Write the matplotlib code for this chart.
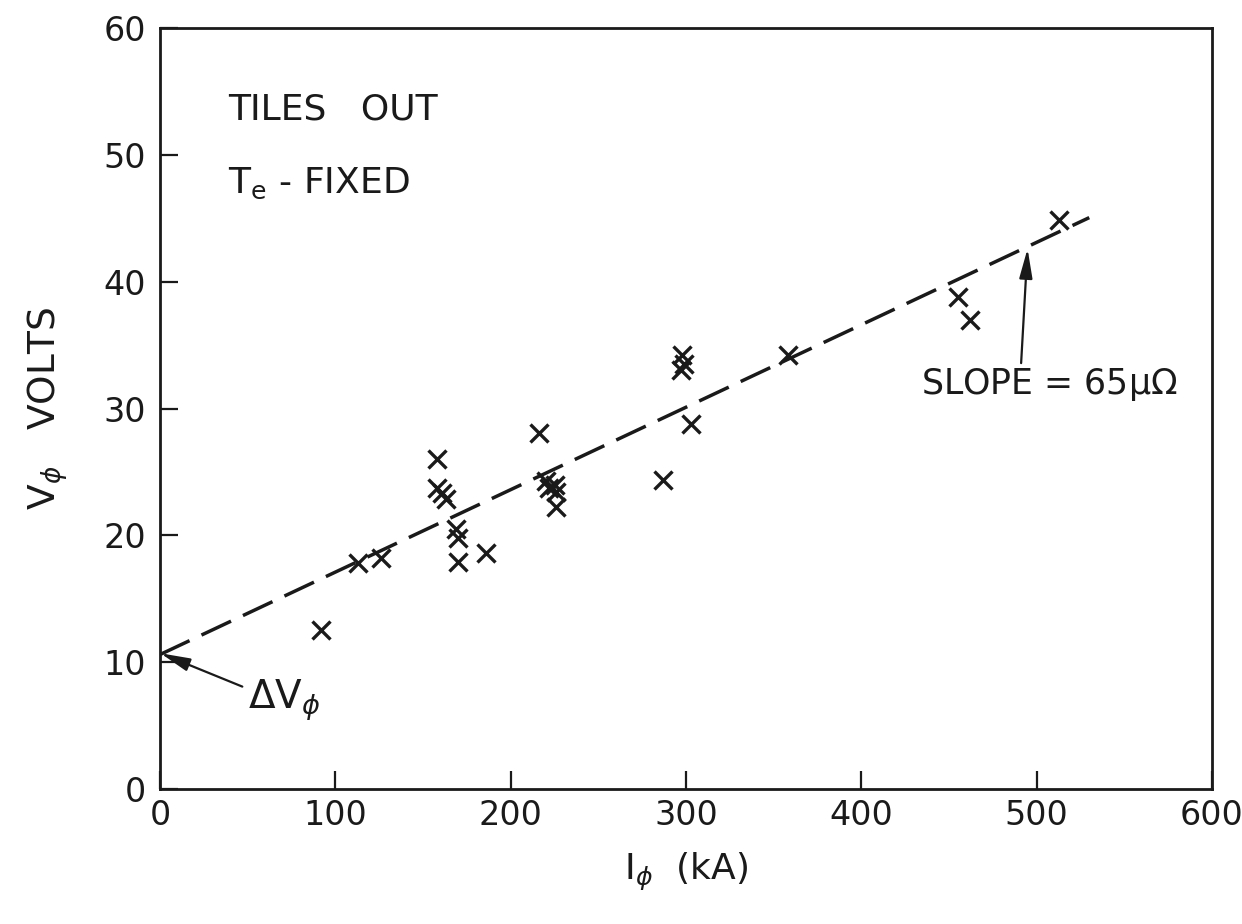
import matplotlib
matplotlib.use("Agg")
import matplotlib.pyplot as plt
import numpy as np
from matplotlib import font_manager

# ---- data ----
current_kA = [92, 113, 126, 158, 158, 161, 163, 169, 170, 170, 186,
              216, 220, 222, 225, 226, 226, 287, 297, 298, 299, 303,
              358, 455, 462, 513]
voltage_V = [12.5, 17.8, 18.2, 26.0, 23.7, 23.3, 22.9, 20.5, 19.8, 17.9, 18.6,
             28.1, 24.3, 23.7, 24.0, 23.4, 22.2, 24.4, 33.0, 34.2, 33.5, 28.8,
             34.2, 38.8, 37.0, 44.9]
fit_intercept = 10.6      # volts (Delta V_phi)
fit_slope = 0.065         # V per kA  (65 micro-ohm)
fit_x_range = [0, 530]
x_ticks = [0, 100, 200, 300, 400, 500, 600]
y_ticks = [0, 10, 20, 30, 40, 50, 60]

names = {f.name for f in font_manager.fontManager.ttflist}
fam = ['Liberation Sans Narrow'] if 'Liberation Sans Narrow' in names else ['DejaVu Sans']
plt.rcParams['font.family'] = fam + ['DejaVu Sans']
plt.rcParams['mathtext.fontset'] = 'dejavusans'

ink = '#1a1a1a'
fig = plt.figure(figsize=(12.42, 9.24), dpi=100)
ax = fig.add_axes([160/1242, 1-789/924, (1212-160)/1242, (789-28)/924])

# data points
ax.plot(current_kA, voltage_V, linestyle='none', marker='x', markersize=13.5,
        markeredgewidth=2.4, color=ink)

# fitted dashed line
fx = np.array(fit_x_range, dtype=float)
fy = fit_intercept + fit_slope * fx
ax.plot(fx, fy, color=ink, lw=2.5, dashes=(9.4, 3.8))

ax.set_xlim(0, 600)
ax.set_ylim(0, 60)
ax.set_xticks(x_ticks)
ax.set_yticks(y_ticks)
ax.tick_params(direction='in', length=13, width=1.6, labelsize=24,
               colors=ink, top=False, right=False)
ax.tick_params(axis='y', pad=10)
ax.tick_params(axis='x', pad=7)
for s in ax.spines.values():
    s.set_linewidth(2)
    s.set_color(ink)

ax.set_xlabel(r'I$_\phi$  (kA)', fontsize=26, color=ink, labelpad=14)
ax.set_ylabel(r'V$_\phi$   VOLTS', fontsize=27, color=ink, labelpad=24)

# in-plot labels
ax.text(38.8, 52.8, 'TILES   OUT', fontsize=26, color=ink, va='baseline')
ax.text(38.8, 47.0, r'T$_{\mathregular{e}}$ - FIXED', fontsize=26, color=ink, va='baseline')

# slope annotation
ax.annotate(r'SLOPE = 65$\mathregular{\mu\Omega}$', xy=(494.8, 42.6), xytext=(434, 31.9),
            fontsize=25, color=ink, va='center', ha='left',
            arrowprops=dict(arrowstyle='-|>,head_length=0.9,head_width=0.2',
                            color=ink, lw=1.6, mutation_scale=20,
                            shrinkA=0, shrinkB=0, relpos=(0.39, 1.0)))

# Delta V annotation
ax.annotate(r'$\Delta$V$_\phi$', xy=(0.3, 10.7), xytext=(50, 7.0),
            fontsize=28, color=ink, va='center', ha='left',
            arrowprops=dict(arrowstyle='-|>,head_length=0.9,head_width=0.2',
                            color=ink, lw=1.6, mutation_scale=20,
                            shrinkA=2, shrinkB=0, relpos=(0.0, 0.75)))

fig.savefig('out.png', dpi=100, facecolor='white')
